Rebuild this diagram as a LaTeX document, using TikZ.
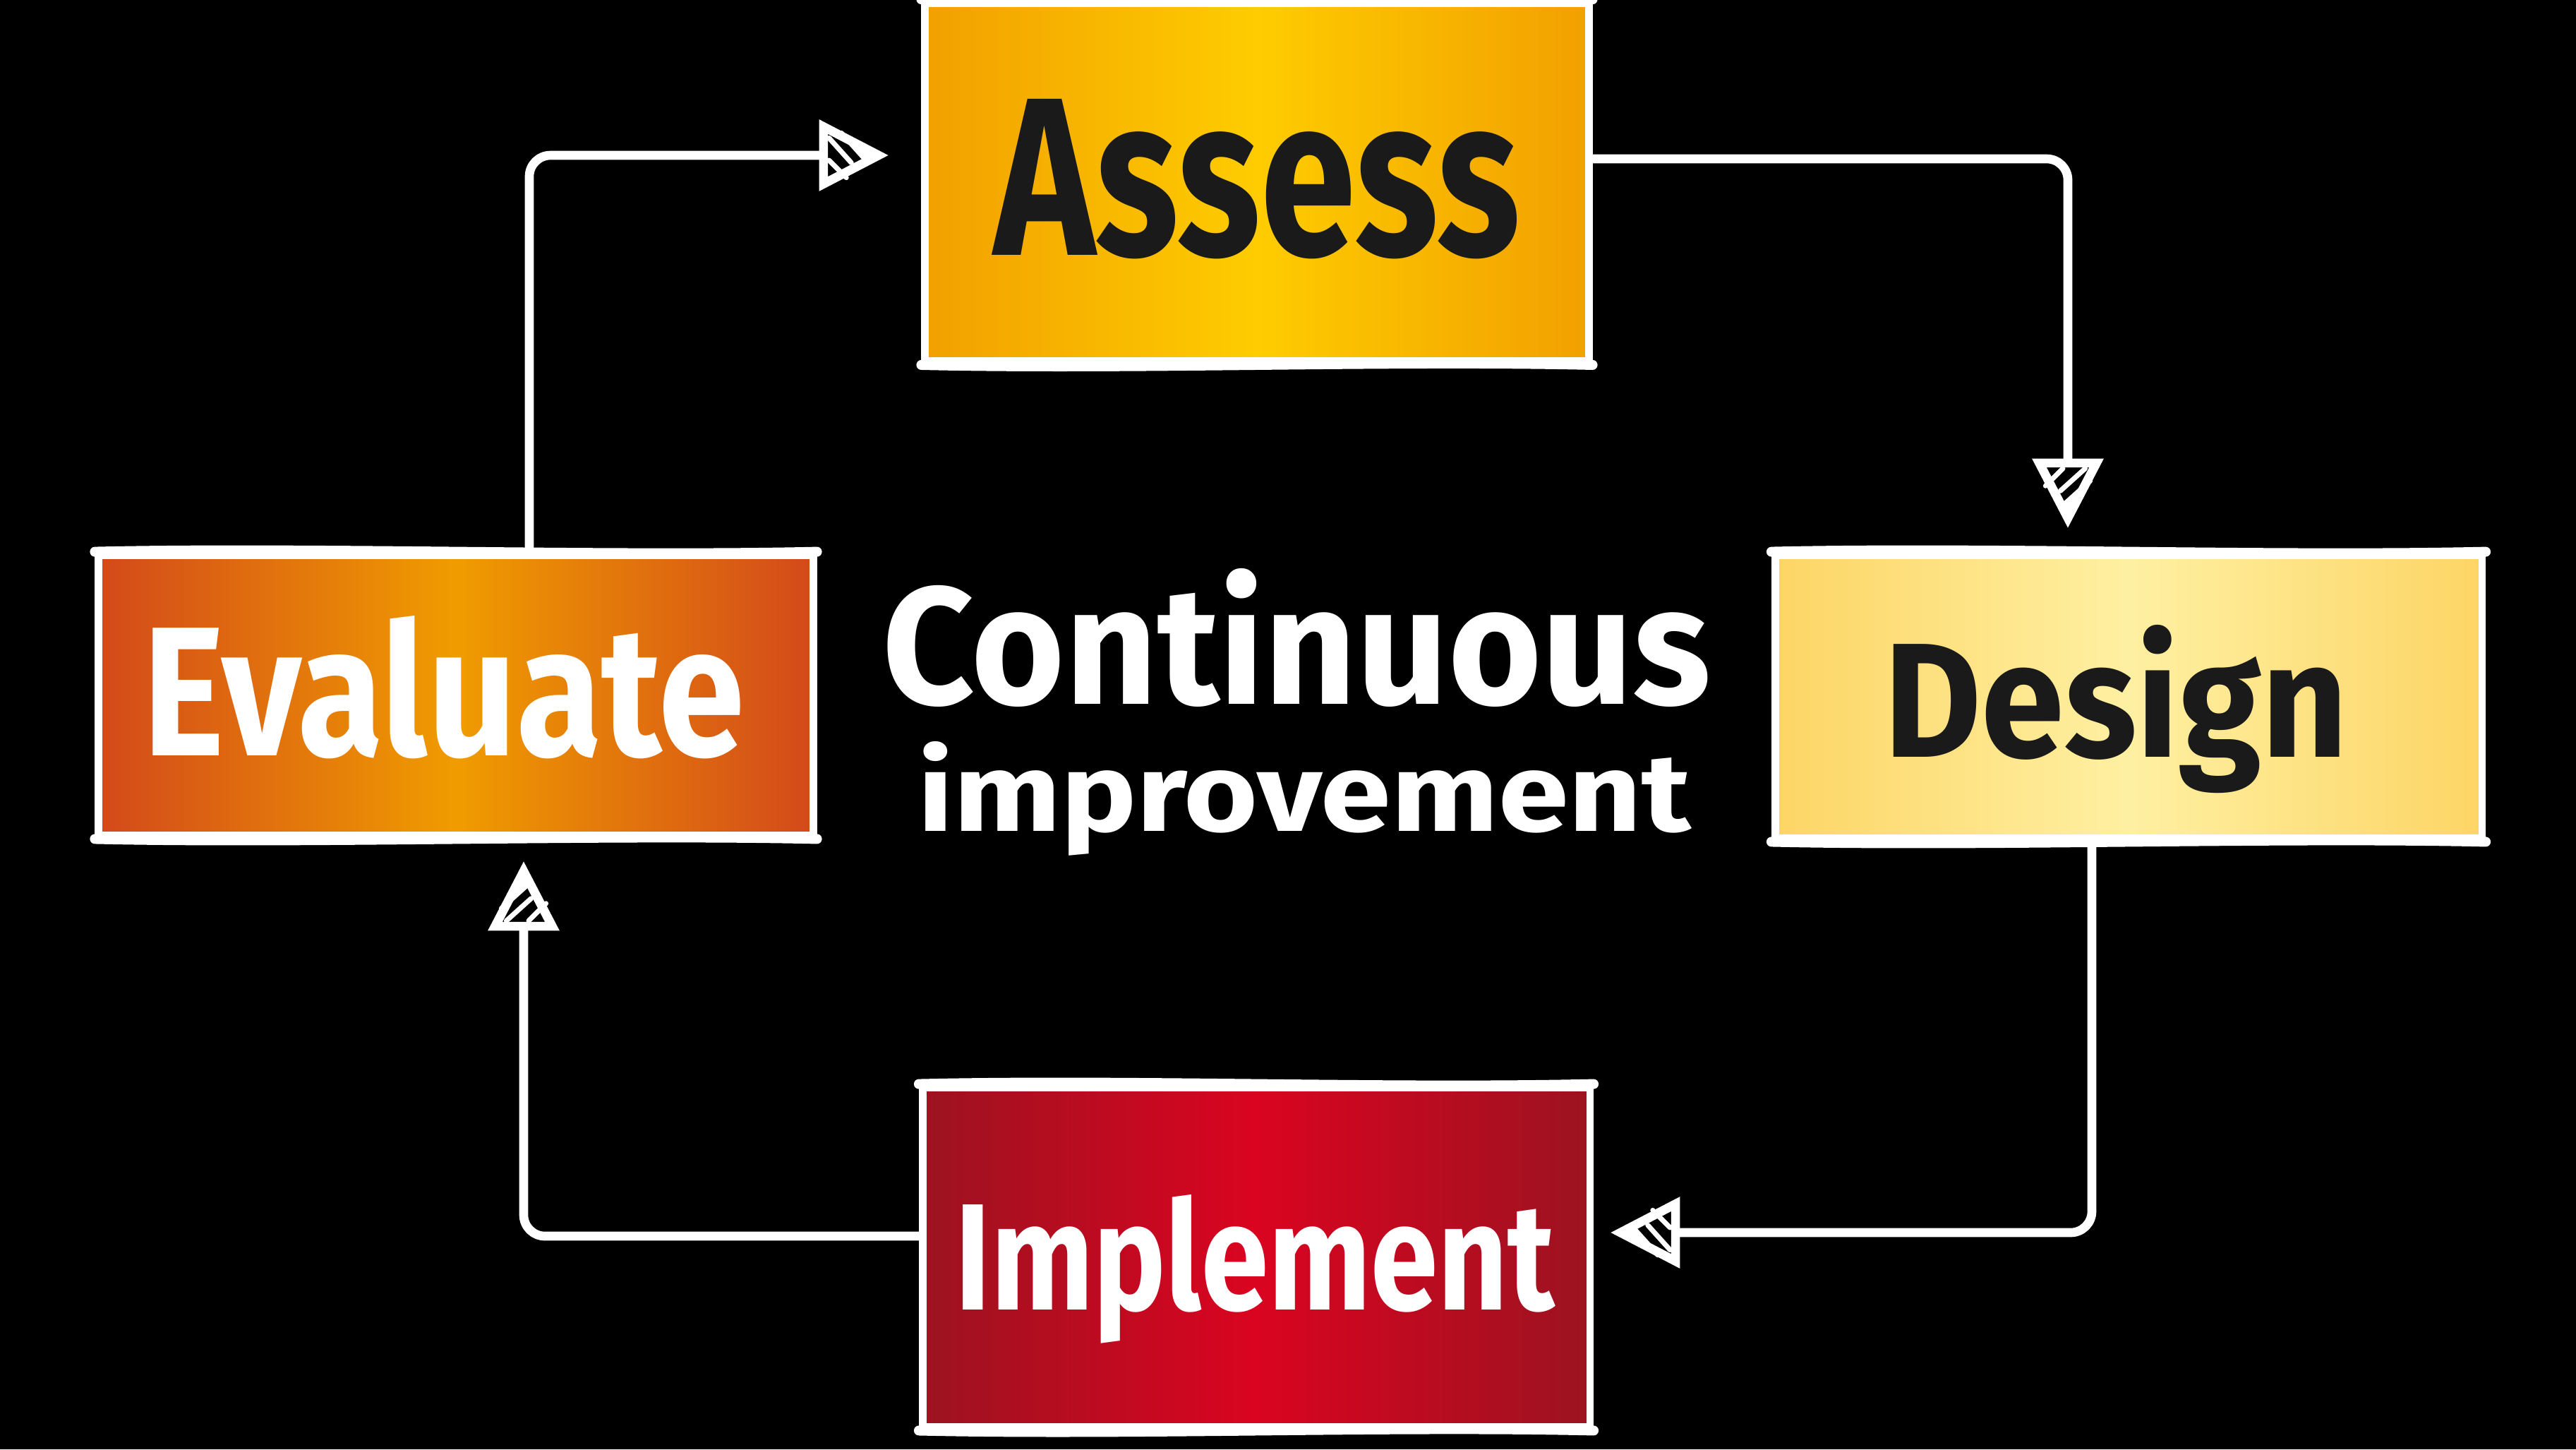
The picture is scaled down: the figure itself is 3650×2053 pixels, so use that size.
\documentclass[tikz,border=0pt]{standalone}
\usepackage{fontspec}
\setmainfont{Fira Sans}
\usepackage{graphicx}
\usetikzlibrary{arrows.meta}
\definecolor{assessEdge}{HTML}{F2A000}
\definecolor{assessMid}{HTML}{FECC00}
\definecolor{evalEdge}{HTML}{D3491A}
\definecolor{evalMid}{HTML}{F09C00}
\definecolor{designEdge}{HTML}{FDD565}
\definecolor{designMid}{HTML}{FEF0A2}
\definecolor{implEdge}{HTML}{9C1320}
\definecolor{implMid}{HTML}{DA0420}
\definecolor{inkdark}{HTML}{1B1A1A}
\tikzset{
  box/.style={draw=white, line width=3pt, inner sep=0pt, rectangle},
  rough/.style={draw=white, line width=4pt, line cap=round},
  conn/.style={draw=white, line width=3.6pt, rounded corners=0.3cm, line cap=round, line join=round,
    -{Triangle[open,length=28pt,width=28pt]}},
  lbl/.style={inner sep=0pt, anchor=base west, font=\bfseries},
  hatch/.pic={
    \draw[white, line width=2pt, line cap=round]
      (-24pt,7pt)--(-15pt,-3pt) (-19pt,9pt)--(-10pt,-1pt)
      (-24pt,-2pt)--(-17pt,-9pt) (-13pt,3pt)--(-7pt,-2pt);
  }
}
\begin{document}
\begin{tikzpicture}[x=0.01cm,y=-0.01cm]
\fill[black] (0,0) rectangle (3650,2053);
\useasboundingbox (0,0) rectangle (3650,2053);

% boxes
\node[box, minimum width=9.4cm, minimum height=5.07cm,
  left color=assessEdge, right color=assessEdge, middle color=assessMid] (assess) at (1781,258) {};
\node[box, minimum width=10.12cm, minimum height=3.96cm,
  left color=evalEdge, right color=evalEdge, middle color=evalMid] (evaluate) at (646,985) {};
\node[box, minimum width=10.01cm, minimum height=4.0cm,
  left color=designEdge, right color=designEdge, middle color=designMid] (design) at (3016,987) {};
\node[box, minimum width=9.45cm, minimum height=4.8cm,
  left color=implEdge, right color=implEdge, middle color=implMid] (implement) at (1780,1781) {};

% sketchy top / bottom edges
\foreach \b in {assess,evaluate,design,implement}{
  \draw[rough] (\b.north west) .. controls ([xshift=3cm,yshift=2pt]\b.north west) and ([xshift=-3cm,yshift=-2pt]\b.north east) .. (\b.north east);
  \draw[rough] (\b.south west) .. controls ([xshift=3cm,yshift=-2pt]\b.south west) and ([xshift=-3cm,yshift=2pt]\b.south east) .. (\b.south east);
}

% labels
\node[lbl, text=inkdark] (assessT) at (1408,361) {\resizebox{7.45cm}{2.21cm}{Assess}};
\node[lbl, text=white] (evaluateT) at (202,1070) {\resizebox{8.52cm}{1.98cm}{Evaluate}};
\node[lbl, text=inkdark] (designT) at (2669,1072) {\resizebox{6.57cm}{1.87cm}{Design}};
\node[lbl, text=white] (implementT) at (1353,1855) {\resizebox{8.48cm}{1.63cm}{Implement}};
\node[lbl, text=white] (title1) at (1250,997) {\resizebox{11.73cm}{1.92cm}{Continuous}};
\node[lbl, text=white] (title2) at (1300,1177) {\resizebox{10.94cm}{1.27cm}{improvement}};

% connectors
\coordinate (k1) at (750,220);
\coordinate (t1) at (1259,220);
\coordinate (k2) at (0,225);
\coordinate (t2) at (2930,748);
\coordinate (k3) at (2964,0);
\coordinate (t3) at (2282,1746);
\coordinate (k4) at (0,1751);
\coordinate (t4) at (742,1220);

\draw[conn] (evaluate.north -| k1) |- (t1);
\draw[conn] (assess.east |- k2) -| (t2);
\draw[conn] (design.south -| k3) |- (t3);
\draw[conn] (implement.west |- k4) -| (t4);

\pic[rotate=0] at (t1) {hatch};
\pic[rotate=-90] at (t2) {hatch};
\pic[rotate=180] at (t3) {hatch};
\pic[rotate=90] at (t4) {hatch};
\end{tikzpicture}
\end{document}
